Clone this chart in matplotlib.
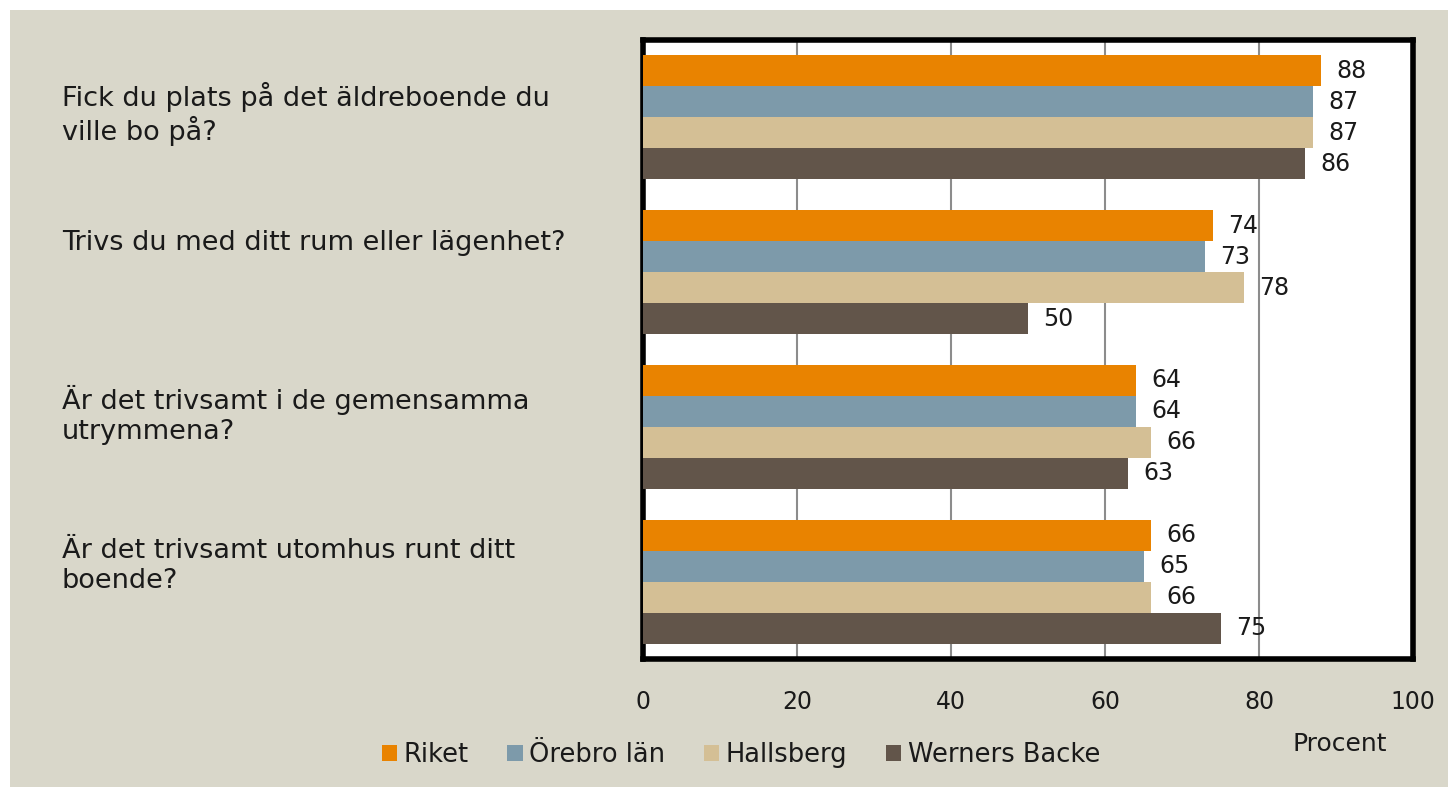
import matplotlib
matplotlib.use("Agg")
import matplotlib.pyplot as plt
from matplotlib.patches import Patch
import numpy as np

plt.rcParams['font.family'] = ['DejaVu Sans']

questions = [
    "Fick du plats på det äldreboende du\nville bo på?",
    "Trivs du med ditt rum eller lägenhet?",
    "Är det trivsamt i de gemensamma\nutrymmena?",
    "Är det trivsamt utomhus runt ditt\nboende?",
]
series = ["Riket", "Örebro län", "Hallsberg", "Werners Backe"]
riket = [88, 74, 64, 66]
orebro = [87, 73, 64, 65]
hallsberg = [87, 78, 66, 66]
werners = [86, 50, 63, 75]
xticks = [0, 20, 40, 60, 80, 100]

colors = ["#E98300", "#7D9AAA", "#D4BF95", "#62554A"]
bg = "#D9D7CA"
txt = "#1a1a1a"

fig = plt.figure(figsize=(14.48, 7.89), dpi=100)
fig.patch.set_facecolor("white")
# beige panel with a thin white margin top/left
fig.add_artist(plt.Rectangle((10 / 1448, 0.002), 1, 1 - 10 / 789 - 0.002,
                             transform=fig.transFigure, facecolor=bg,
                             edgecolor="none", zorder=0))

ax = fig.add_axes([643 / 1448, 1 - 659 / 789, 770 / 1448, 619 / 789])
ax.set_facecolor("white")

y = np.arange(len(questions))
h = 0.2
all_vals = [riket, orebro, hallsberg, werners]
for k, (vals, col) in enumerate(zip(all_vals, colors)):
    pos = y - 0.3 + k * h
    ax.barh(pos, vals, height=h, color=col, zorder=3)
    for p, v in zip(pos, vals):
        ax.text(v + 2, p, str(v), va="center", ha="left", fontsize=17,
                color=txt, zorder=4)

ax.set_xlim(0, 100)
ax.set_ylim(len(questions) - 0.5, -0.5)
ax.set_xticks(xticks)
ax.set_xticklabels([str(t) for t in xticks], fontsize=17, color=txt)
ax.tick_params(axis="x", length=0, pad=22)
ax.set_yticks([])
ax.grid(axis="x", color="#8c8c8c", linewidth=1.5, zorder=1)
for s in ax.spines.values():
    s.set_linewidth(4)
    s.set_color("black")

# question labels, left aligned in the beige area
label_y = [114, 243, 415, 566]
for q, ly in zip(questions, label_y):
    fig.text(62 / 1448, 1 - ly / 789, q, ha="left", va="center", fontsize=19.5,
             color=txt, linespacing=1.2)

fig.text(1340 / 1448, 1 - 744 / 789, "Procent", ha="center", va="center",
         fontsize=18, color=txt)

handles = [Patch(facecolor=c, edgecolor="none") for c in colors]
fig.legend(handles, series, loc="center", bbox_to_anchor=(741 / 1448, 1 - 755 / 789),
           ncol=4, frameon=False, fontsize=18.5, handlelength=0.6, handleheight=0.6,
           handletextpad=0.25, columnspacing=1.5, labelcolor=txt)

fig.savefig("out.png", dpi=100, facecolor=fig.get_facecolor())
